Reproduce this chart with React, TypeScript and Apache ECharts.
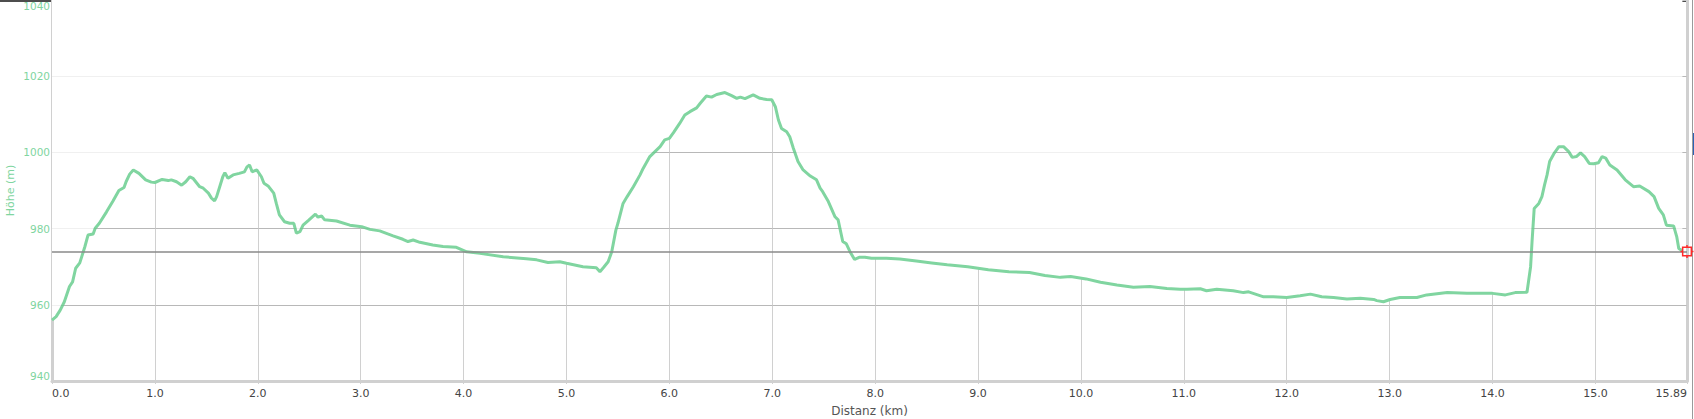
import React, { useEffect, useRef } from "react";
import * as echarts from "echarts";

// Elevation profile: distance (km) and elevation (m)
const distanceKm = [
  0.0, 0.04, 0.08, 0.12, 0.17, 0.2, 0.23, 0.27, 0.32, 0.35, 0.4, 0.42, 0.46, 0.53, 0.59, 0.65, 0.7, 0.72, 0.755, 0.79,
  0.845, 0.91, 0.965, 1.0, 1.07, 1.13, 1.16, 1.21, 1.26, 1.3, 1.34, 1.37, 1.435, 1.47, 1.52, 1.55, 1.58, 1.6, 1.63, 1.66,
  1.68, 1.71, 1.76, 1.82, 1.87, 1.895, 1.92, 1.945, 1.99, 2.035, 2.06, 2.1, 2.155, 2.18, 2.21, 2.26, 2.31, 2.35, 2.375, 2.41,
  2.44, 2.49, 2.56, 2.585, 2.62, 2.65, 2.765, 2.895, 3.01, 3.09, 3.185, 3.315, 3.41, 3.46, 3.51, 3.575, 3.7, 3.8, 3.93, 4.03,
  4.16, 4.385, 4.61, 4.71, 4.82, 4.935, 5.0, 5.16, 5.29, 5.325, 5.36, 5.405, 5.44, 5.48, 5.5, 5.55, 5.59, 5.65, 5.715, 5.745,
  5.81, 5.86, 5.91, 5.955, 6.0, 6.04, 6.1, 6.15, 6.2, 6.265, 6.3, 6.36, 6.41, 6.46, 6.54, 6.605, 6.655, 6.69, 6.735, 6.815,
  6.88, 6.945, 6.995, 7.03, 7.06, 7.09, 7.14, 7.17, 7.205, 7.25, 7.3, 7.37, 7.43, 7.465, 7.49, 7.545, 7.61, 7.64, 7.685, 7.72,
  7.76, 7.8, 7.85, 7.9, 7.965, 8.11, 8.24, 8.4, 8.55, 8.7, 8.9, 9.1, 9.3, 9.5, 9.65, 9.8, 9.9, 10.05, 10.19, 10.35,
  10.51, 10.67, 10.835, 10.965, 11.03, 11.16, 11.22, 11.32, 11.48, 11.58, 11.63, 11.775, 11.87, 12.0, 12.13, 12.23, 12.34, 12.455, 12.585, 12.715,
  12.845, 12.875, 12.94, 13.005, 13.1, 13.265, 13.36, 13.56, 13.75, 14.0, 14.125, 14.22, 14.335, 14.37, 14.385, 14.405, 14.45, 14.48, 14.505, 14.53,
  14.555, 14.595, 14.645, 14.69, 14.74, 14.775, 14.815, 14.855, 14.895, 14.94, 14.985, 15.03, 15.065, 15.1, 15.14, 15.21, 15.29, 15.37, 15.43, 15.52,
  15.57, 15.615, 15.66, 15.69, 15.76, 15.79, 15.81, 15.845,
];

const elevationM = [
  956.0, 956.9, 958.6, 960.8, 964.8, 966.0, 969.6, 971.0, 975.3, 978.3, 978.6, 980.1, 981.4, 984.4, 987.1, 990.0, 990.8, 992.3, 994.3, 995.4,
  994.5, 992.8, 992.2, 992.1, 992.9, 992.6, 992.8, 992.3, 991.4, 992.3, 993.6, 993.2, 991.0, 990.6, 989.3, 988.0, 987.3, 988.4, 991.0, 993.6,
  994.7, 993.2, 994.1, 994.5, 994.9, 996.2, 996.7, 994.9, 995.4, 993.6, 991.9, 991.2, 989.3, 986.6, 983.6, 981.8, 981.4, 981.4, 978.8, 979.2,
  980.9, 982.1, 983.8, 983.0, 983.3, 982.3, 982.0, 980.9, 980.5, 979.8, 979.4, 978.1, 977.2, 976.6, 977.0, 976.4, 975.7, 975.3, 975.1, 973.9,
  973.5, 972.6, 972.1, 971.8, 971.1, 971.3, 970.9, 970.0, 969.7, 968.7, 969.8, 971.3, 973.9, 979.6, 981.4, 986.6, 988.4, 991.0, 994.1, 995.8,
  998.9, 1000.2, 1001.5, 1003.3, 1003.7, 1005.2, 1007.6, 1009.8, 1010.7, 1011.7, 1012.9, 1014.8, 1014.5, 1015.2, 1015.7, 1014.9, 1014.2, 1014.5, 1014.1, 1015.1,
  1014.2, 1013.9, 1013.8, 1012.0, 1008.5, 1006.3, 1005.4, 1004.1, 1001.1, 997.6, 995.4, 993.8, 992.8, 990.6, 989.7, 987.1, 983.1, 982.3, 976.6, 976.0,
  973.7, 971.9, 972.5, 972.5, 972.2, 972.2, 972.0, 971.5, 971.0, 970.5, 970.0, 969.2, 968.7, 968.5, 967.7, 967.2, 967.4, 966.8, 965.9, 965.2,
  964.6, 964.8, 964.3, 964.1, 964.1, 964.2, 963.7, 964.1, 963.7, 963.2, 963.4, 962.1, 962.1, 961.9, 962.4, 962.8, 962.1, 961.9, 961.5, 961.7,
  961.4, 961.1, 960.8, 961.4, 961.9, 961.9, 962.6, 963.2, 963.0, 963.0, 962.6, 963.2, 963.3, 970.0, 977.0, 985.3, 986.6, 988.4, 991.4, 994.1,
  997.6, 999.6, 1001.5, 1001.5, 1000.2, 998.7, 998.9, 999.9, 998.9, 997.1, 997.0, 997.3, 998.9, 998.5, 996.7, 995.4, 992.8, 991.0, 991.2, 989.7,
  988.4, 985.3, 983.6, 980.9, 980.7, 977.9, 974.8, 974.2,
];

const totalDistanceKm = 15.89;
const referenceElevationM = 974;
const yAxisRange = [940, 1040];
const yInterval = 20;
const xInterval = 1;
const faintGridLevels = [960, 980, 1000, 1020];

const GREEN = "#80d5a0";
const FONT = "DejaVu Sans, Verdana, sans-serif";

const markerPath =
  "path://M2,2L10,2L10,10L2,10Z M6,0L6,2 M6,10L6,12 M0,6L2,6 M10,6L12,6";

export default function App() {
  const ref = useRef<HTMLDivElement>(null);

  useEffect(() => {
    if (!ref.current) return;
    const chart = echarts.init(ref.current, undefined, { renderer: "svg" });
    const points = distanceKm.map((d, i) => [d, elevationM[i]]);

    chart.setOption({
      animation: false,
      grid: { left: 52, right: 7, top: 0, bottom: 38, containLabel: false, outerBoundsMode: "none" },
      xAxis: {
        type: "value",
        min: 0,
        max: totalDistanceKm,
        interval: xInterval,
        name: "Distanz (km)",
        nameLocation: "middle",
        nameGap: 24,
        nameMoveOverlap: false,
        nameTextStyle: { color: "#555", fontSize: 12, fontFamily: FONT },
        axisLine: { show: true, lineStyle: { color: "#d0d0d0", width: 3 } },
        axisTick: { show: true, length: 3, lineStyle: { color: "#d0d0d0", width: 1 } },
        axisLabel: {
          color: "#444",
          fontSize: 11,
          fontFamily: FONT,
          margin: 7,
          showMaxLabel: true,
          showMinLabel: true,
          alignMinLabel: "left",
          alignMaxLabel: "right",
          formatter: (v: number) =>
            Math.abs(v - Math.round(v)) < 1e-9 ? v.toFixed(1) : v.toFixed(2),
        },
        splitLine: { show: true, lineStyle: { color: "#d0d0d0", width: 1 } },
      },
      yAxis: [
        {
          type: "value",
          min: yAxisRange[0],
          max: yAxisRange[1],
          interval: yInterval,
          name: "Höhe (m)",
          nameLocation: "middle",
          nameGap: 36,
          nameMoveOverlap: false,
          nameTextStyle: { color: GREEN, fontSize: 11, fontFamily: FONT },
          axisLine: { show: true, lineStyle: { color: "#d0d0d0", width: 3 } },
          axisTick: { show: false },
          axisLabel: {
            color: GREEN,
            fontSize: 10.5,
            fontFamily: FONT,
            margin: 2,
            formatter: (v: number) => String(v),
            verticalAlignMaxLabel: "top",
            verticalAlignMinLabel: "bottom",
          },
          splitLine: { show: true, lineStyle: { color: "#c4c4c4", width: 1 } },
        },
        {
          type: "value",
          position: "right",
          min: yAxisRange[0],
          max: yAxisRange[1],
          interval: yInterval,
          axisLine: { show: true, lineStyle: { color: "#d0d0d0", width: 3 } },
          axisTick: { show: false },
          axisLabel: { show: false },
          splitLine: { show: false },
        },
      ],
      series: [
        {
          type: "line",
          data: points,
          showSymbol: false,
          symbol: "none",
          lineStyle: { color: GREEN, width: 3 },
          areaStyle: { origin: "end", color: "#ffffff", opacity: 1 },
          markLine: {
            silent: true,
            symbol: "none",
            label: { show: false },
            data: [
              ...faintGridLevels.map((lv) => ({
                yAxis: lv,
                lineStyle: { color: "rgba(0,0,0,0.06)", width: 1, type: "solid" },
              })),
              {
                yAxis: referenceElevationM,
                lineStyle: { color: "#8a8a8a", width: 1.5, type: "solid" },
              },
            ],
          },
          markPoint: {
            silent: true,
            symbol: markerPath,
            symbolSize: 13,
            label: { show: false },
            itemStyle: { color: "none", borderColor: "#ff2a2a", borderWidth: 1.5 },
            data: [{ coord: [totalDistanceKm, referenceElevationM] }],
          },
        },
      ],
      graphic: [
        { type: "rect", left: 0, top: 0, shape: { width: 1687, height: 2 }, style: { fill: "#4d4d4d" }, silent: true },
        { type: "rect", left: 1692, top: 0, shape: { width: 1, height: 419 }, style: { fill: "#9a9a9a" }, silent: true },
        { type: "rect", left: 1693, top: 133, shape: { width: 1, height: 22 }, style: { fill: "#2a62b5" }, silent: true },
      ],
    });

    return () => chart.dispose();
  }, []);

  return (
    <div
      ref={ref}
      style={{ position: "absolute", left: 0, top: 0, width: 1694, height: 419 }}
    />
  );
}
